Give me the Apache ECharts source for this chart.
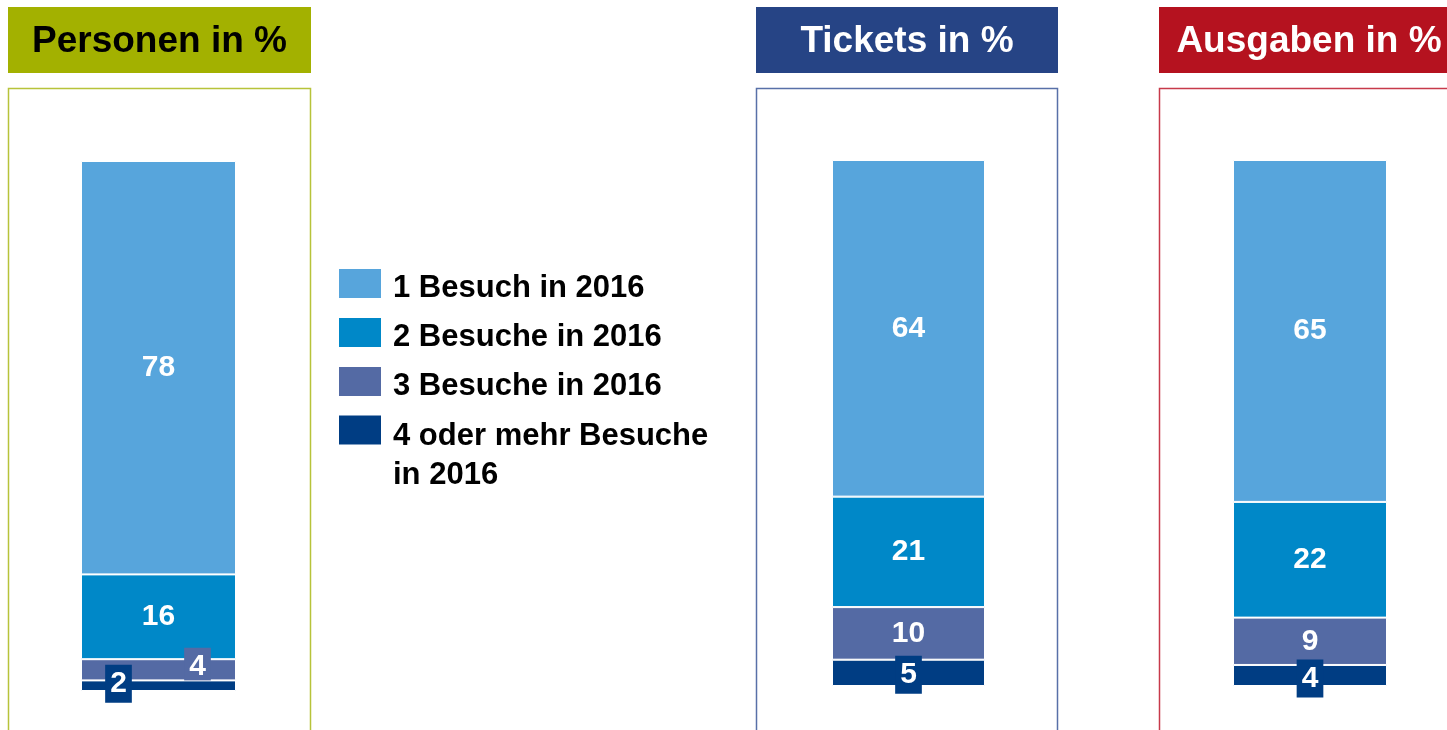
<!DOCTYPE html>
<html>
<head>
<meta charset="utf-8">
<script src="https://cdn.jsdelivr.net/npm/echarts@6/dist/echarts.min.js"></script>
<style>
  html, body { margin: 0; padding: 0; background: #fff; }
  #chart { width: 1447px; height: 730px; }
</style>
</head>
<body>
<div id="chart"></div>
<script>
// Daten
const panels = ['Personen in %', 'Tickets in %', 'Ausgaben in %']
const seriesNames = ['1 Besuch in 2016', '2 Besuche in 2016', '3 Besuche in 2016', '4 oder mehr Besuche in 2016']
const besuch1 = [78, 64, 65]
const besuch2 = [16, 21, 22]
const besuch3 = [4, 10, 9]
const besuch4 = [2, 5, 4]

const values = [besuch1, besuch2, besuch3, besuch4]
const colors = ['#57a5dc', '#0088c8', '#546aa4', '#003d83']
const font = '"Liberation Sans", Arial, sans-serif'

// Panel-Layout
const headColors = ['#a3b100', '#264485', '#b5121f']
const headText = ['#000', '#fff', '#fff']
const frameColors = ['#b7c33a', '#5870a8', '#c73a4a']
const panelX = [8, 756, 1159]
const panelW = [303, 302, 300]
const grids = [
  { left: 81, width: 155, top: 161, height: 530 },
  { left: 832, width: 153, top: 160, height: 526 },
  { left: 1233, width: 154, top: 160, height: 526 }
]

// Beschriftungen kleiner Segmente (Kästchen)
const boxLabel = (color, offset) => ({
  backgroundColor: color,
  padding: [5, 5, 3, 5],
  lineHeight: 30,
  offset: offset
})
const specialLabels = {
  '2-0': boxLabel(colors[2], [39, -3]),
  '3-0': boxLabel(colors[3], [-40, -2]),
  '3-1': boxLabel(colors[3], [0, 2]),
  '3-2': boxLabel(colors[3], [0, 3])
}

const chart = echarts.init(document.getElementById('chart'))

// gestapelt von unten (4+) nach oben (1 Besuch)
const series = []
panels.forEach((p, pi) => {
  for (let si = values.length - 1; si >= 0; si--) {
    const item = { value: values[si][pi] }
    const sp = specialLabels[si + '-' + pi]
    if (sp) item.label = sp
    series.push({
      name: seriesNames[si],
      type: 'bar',
      stack: 'p' + pi,
      xAxisIndex: pi,
      yAxisIndex: pi,
      barWidth: '100%',
      z: si === 3 ? 3 : 2,
      itemStyle: { color: colors[si], borderColor: '#fff', borderWidth: 1 },
      label: {
        show: true,
        position: 'inside',
        color: '#fff',
        fontFamily: font,
        fontWeight: 'bold',
        fontSize: 30
      },
      emphasis: { disabled: true },
      data: [item]
    })
  }
})

const graphic = []
panels.forEach((p, pi) => {
  graphic.push({
    type: 'rect',
    shape: { x: panelX[pi], y: 7, width: panelW[pi], height: 66 },
    style: { fill: headColors[pi] },
    z: 1
  })
  graphic.push({
    type: 'text',
    x: panelX[pi] + panelW[pi] / 2,
    y: 42,
    style: {
      text: p,
      fill: headText[pi],
      font: 'bold 37px ' + font,
      align: 'center',
      verticalAlign: 'middle'
    },
    z: 2
  })
  graphic.push({
    type: 'rect',
    shape: { x: panelX[pi] + 0.5, y: 88.5, width: panelW[pi] - 1, height: 700 },
    style: { fill: 'none', stroke: frameColors[pi], lineWidth: 1.5 },
    z: 1
  })
})

const legendText = {
  fontFamily: font, fontWeight: 'bold', fontSize: 31, color: '#000',
  padding: [0, 0, 0, 6],
  rich: {
    pad: { fontSize: 10, lineHeight: 10 },
    pad2: { fontSize: 10, lineHeight: 51 },
    t: { fontFamily: font, fontWeight: 'bold', fontSize: 31, color: '#000', lineHeight: 31 },
    t2: { fontFamily: font, fontWeight: 'bold', fontSize: 31, color: '#000', lineHeight: 39 }
  }
}
const legendBase = {
  orient: 'vertical',
  left: 337,
  padding: 0,
  itemWidth: 44,
  itemHeight: 31,
  itemGap: 8,
  icon: 'rect',
  selectedMode: false,
  textStyle: legendText
}

const option = {
  animation: false,
  grid: grids,
  xAxis: grids.map((g, i) => ({ type: 'category', gridIndex: i, data: [panels[i]], show: false })),
  yAxis: grids.map((g, i) => ({ type: 'value', gridIndex: i, min: 0, max: 100, show: false })),
  legend: [
    Object.assign({}, legendBase, {
      top: 263,
      data: seriesNames.slice(0, 3),
      formatter: (name) => '{pad| }\n{t|' + name + '}'
    }),
    Object.assign({}, legendBase, {
      top: 386,
      data: [seriesNames[3]],
      formatter: () => '{pad2| }\n{t2|4 oder mehr Besuche}\n{t2|in 2016}'
    })
  ],
  graphic: graphic,
  series: series
}
chart.setOption(option)
</script>
</body>
</html>
